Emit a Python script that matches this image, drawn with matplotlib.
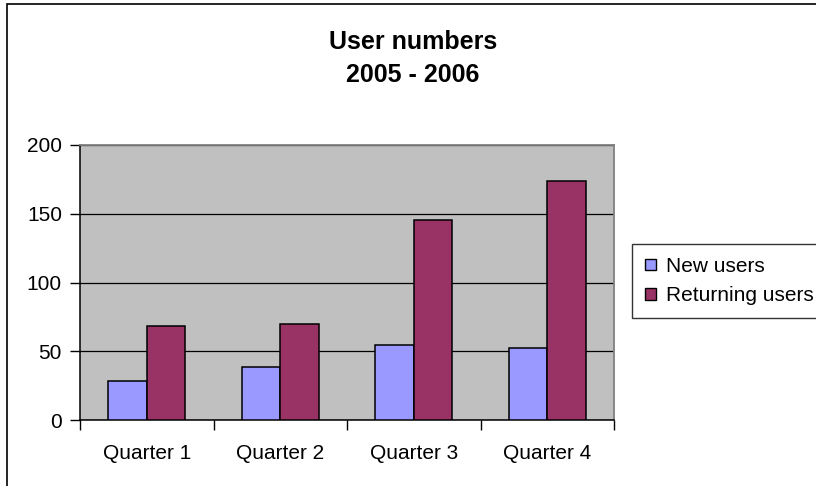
import matplotlib
matplotlib.use("Agg")
import matplotlib.pyplot as plt
from matplotlib.patches import Rectangle, Patch
import numpy as np

plt.rcParams['font.family'] = ['Liberation Sans', 'DejaVu Sans']

# ==========================
# Data
# ==========================
quarters = ["Quarter 1", "Quarter 2", "Quarter 3", "Quarter 4"]
new_users = [28.5, 38.3, 54.5, 52.1]
returning_users = [68.3, 69.7, 145.5, 173.8]
title_lines = ["User numbers", "2005 - 2006"]

NEW_COLOR = "#9999FF"
RET_COLOR = "#993366"

fig = plt.figure(figsize=(8.16, 4.86), dpi=100)
ax = fig.add_axes([80 / 816, 66 / 486, 534 / 816, 275 / 486])

x = np.arange(len(quarters))
w = 0.288
ax.bar(x - w / 2, new_users, w, color=NEW_COLOR, edgecolor="black", linewidth=1.1, zorder=3)
ax.bar(x + w / 2, returning_users, w, color=RET_COLOR, edgecolor="black", linewidth=1.1, zorder=3)

ax.set_facecolor("#C0C0C0")
ax.set_xlim(-0.5, len(quarters) - 0.5)
ax.set_ylim(0, 200)
ax.set_yticks([0, 50, 100, 150, 200])
ax.yaxis.grid(True, color="black", linewidth=0.9, zorder=1)
ax.set_axisbelow(True)

# category boundaries as major ticks, labels on minor ticks
ax.set_xticks(np.arange(-0.5, len(quarters), 1.0))
ax.set_xticklabels([])
ax.set_xticks(x, minor=True)
ax.set_xticklabels(quarters, minor=True)
ax.tick_params(axis="x", which="major", direction="out", length=7, width=1, color="black")
ax.tick_params(axis="x", which="minor", length=0, pad=17, labelsize=15)
ax.tick_params(axis="y", direction="out", length=7, width=1, pad=6, labelsize=15)

for side in ("left", "bottom"):
    ax.spines[side].set_color("black")
    ax.spines[side].set_linewidth(1.1)
for side in ("top", "right"):
    ax.spines[side].set_color("#808080")
    ax.spines[side].set_linewidth(1.3)

# chart title, two lines
fig.text(413 / 816, 1 - 49 / 486, title_lines[0], ha="center", va="baseline",
         fontsize=18, fontweight="bold")
fig.text(413 / 816, 1 - 81.5 / 486, title_lines[1], ha="center", va="baseline",
         fontsize=18, fontweight="bold")

# legend
handles = [Patch(facecolor=NEW_COLOR, edgecolor="black", linewidth=1),
           Patch(facecolor=RET_COLOR, edgecolor="black", linewidth=1)]
leg = fig.legend(handles, ["New users", "Returning users"], loc="upper left",
                 bbox_to_anchor=(632 / 816, 1 - 244.5 / 486), frameon=True, fancybox=False,
                 fontsize=15, handlelength=0.55, handleheight=0.45, handletextpad=0.5,
                 labelspacing=0.5, borderpad=0.6, borderaxespad=0)
leg.get_frame().set_edgecolor("black")
leg.get_frame().set_linewidth(1)

# chart area border (extends past right/bottom edges)
fig.patches.append(Rectangle((6.5 / 816, -0.1), 1.2, 1.1 - 4.5 / 486, transform=fig.transFigure,
                             fill=False, edgecolor="black", linewidth=1.2))

fig.savefig("out.png", dpi=100)
